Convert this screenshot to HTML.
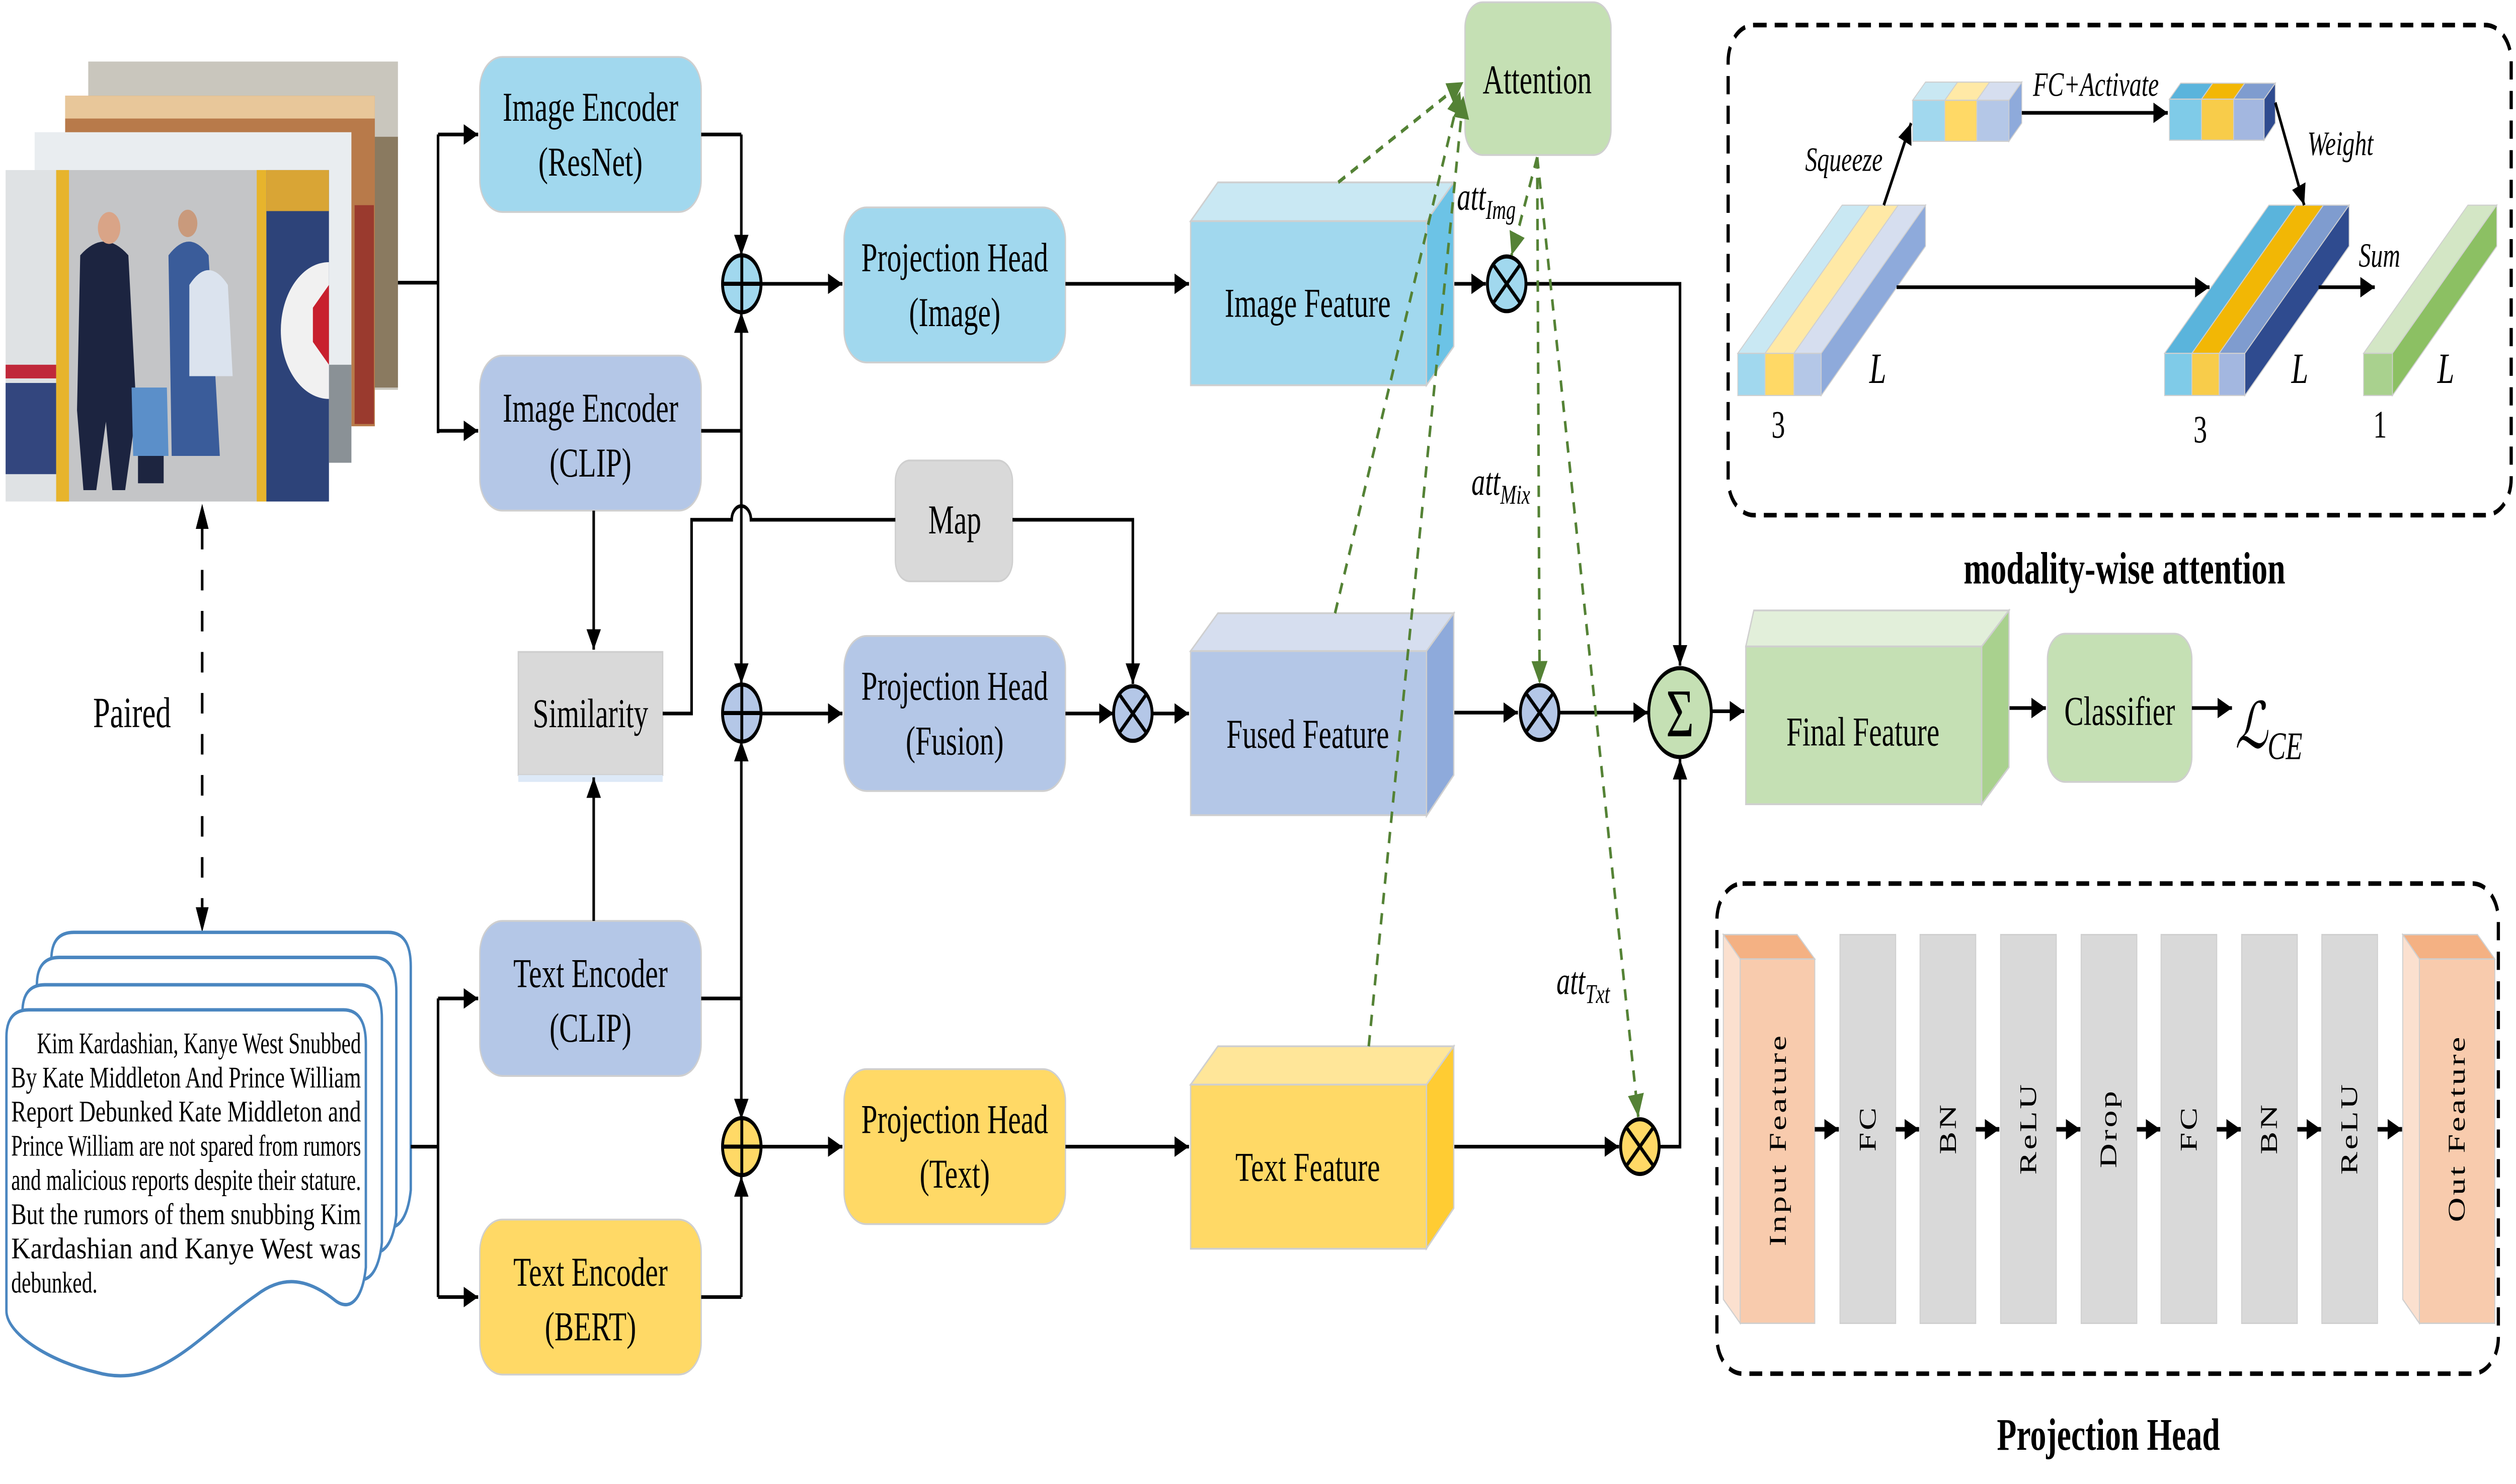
<!DOCTYPE html>
<html><head><meta charset="utf-8"><style>
html,body{margin:0;padding:0;background:#fff;width:100%;height:100%;overflow:hidden;}
svg{position:fixed;left:0;top:0;display:block;width:100vw;height:100vh;}
text{font-family:"Liberation Serif",serif;}
</style></head><body>
<svg viewBox="0 0 1568 651" preserveAspectRatio="none" xmlns="http://www.w3.org/2000/svg">
<defs>
<marker id="a" viewBox="0 0 10 10" refX="10" refY="5" markerWidth="9" markerHeight="9" markerUnits="userSpaceOnUse" orient="auto"><path d="M0,0L10,5L0,10z" fill="#000"/></marker>
<marker id="g" viewBox="0 0 10 10" refX="10" refY="5" markerWidth="10" markerHeight="10" markerUnits="userSpaceOnUse" orient="auto"><path d="M0,0L10,5L0,10z" fill="#548235"/></marker>
</defs>
<rect width="1568" height="651" fill="#fff"/>

<!-- photos -->
<rect x="55" y="27" width="193" height="144" fill="#c9c6bd"/>
<rect x="230" y="60" width="18" height="110" fill="#8a7a60"/>
<rect x="40.6" y="42" width="193" height="145" fill="#b87a4a"/>
<rect x="40.6" y="42" width="193" height="10" fill="#e8c79a"/>
<rect x="221" y="90" width="12" height="96" fill="#9a3a2e"/>
<rect x="21.6" y="58" width="197.4" height="145" fill="#e9edf0"/>
<rect x="205" y="160" width="14" height="43" fill="#8a9196"/>
<rect x="3.5" y="74.6" width="201.5" height="145.4" fill="#dfe2e4"/>
<rect x="3.5" y="160" width="34" height="6" fill="#c0283a"/>
<rect x="3.5" y="168" width="34" height="40" fill="#33467e"/>
<rect x="35" y="74.6" width="130" height="145.4" fill="#c4c5c7"/>
<rect x="35" y="74.6" width="8" height="145.4" fill="#e7b42c"/>
<rect x="160" y="74.6" width="6" height="145.4" fill="#e7b42c"/>
<rect x="166" y="74.6" width="39" height="145.4" fill="#2d4379"/>
<path d="M205,115 A30,30 0 0 0 205,175 z" fill="#f1f1f1"/>
<path d="M195,135 L205,125 L205,160 L195,150z" fill="#c8202e"/>
<rect x="166" y="74.6" width="39" height="18" fill="#d9a535"/>
<path d="M50,112 Q65,100 80,112 L85,180 L78,215 L70,215 L66,185 L60,215 L52,215 L48,180z" fill="#1c2440"/>
<circle cx="68" cy="100" r="7" fill="#d9a487"/>
<path d="M105,112 Q118,100 130,112 L137,200 L107,200z" fill="#3a5c9a"/>
<circle cx="117" cy="98" r="6" fill="#c99a7c"/>
<path d="M118,125 Q130,112 142,125 L145,165 L118,165z" fill="#dbe3ee"/>
<path d="M82,170 L104,170 L105,200 L83,200z" fill="#5b8fc9"/>
<rect x="86" y="200" width="16" height="12" fill="#1d2540"/>

<!-- bracket from photos -->
<path d="M248,124 H273 M273,59 V190" stroke="#000" stroke-width="1.6" fill="none"/>
<path d="M273,59 H298" stroke="#000" stroke-width="1.6" marker-end="url(#a)"/>
<path d="M273,189 H298" stroke="#000" stroke-width="1.6" marker-end="url(#a)"/>

<!-- paired -->
<path d="M126,232 V398" stroke="#000" stroke-width="1.6" stroke-dasharray="9,9" fill="none"/>
<path d="M122,232 L126,221 L130,232z M122,398 L126,409 L130,398z" fill="#000"/>
<text x="58" y="319" font-size="19">Paired</text>

<!-- docs -->
<g fill="#fff" stroke="#4a86c0" stroke-width="1.5">
<path transform="translate(28,-34)" d="M4,455 Q4,443 18,443 L214,443 Q228,443 228,458 L228,556 C226,570 218,576 208,570 C190,560 175,560 160,568 C125,585 100,610 60,602 C30,597 4,585 4,575 Z"/>
<path transform="translate(19,-23)" d="M4,455 Q4,443 18,443 L214,443 Q228,443 228,458 L228,556 C226,570 218,576 208,570 C190,560 175,560 160,568 C125,585 100,610 60,602 C30,597 4,585 4,575 Z"/>
<path transform="translate(10,-11)" d="M4,455 Q4,443 18,443 L214,443 Q228,443 228,458 L228,556 C226,570 218,576 208,570 C190,560 175,560 160,568 C125,585 100,610 60,602 C30,597 4,585 4,575 Z"/>
<path d="M4,455 Q4,443 18,443 L214,443 Q228,443 228,458 L228,556 C226,570 218,576 208,570 C190,560 175,560 160,568 C125,585 100,610 60,602 C30,597 4,585 4,575 Z"/>
</g>
<g font-size="13" fill="#000">
<text x="23" y="462" textLength="202" lengthAdjust="spacingAndGlyphs">Kim Kardashian, Kanye West Snubbed</text>
<text x="7" y="477" textLength="218" lengthAdjust="spacingAndGlyphs">By Kate Middleton And Prince William</text>
<text x="7" y="492" textLength="218" lengthAdjust="spacingAndGlyphs">Report Debunked Kate Middleton and</text>
<text x="7" y="507" textLength="218" lengthAdjust="spacingAndGlyphs">Prince William are not spared from rumors</text>
<text x="7" y="522" textLength="218" lengthAdjust="spacingAndGlyphs">and malicious reports despite their stature.</text>
<text x="7" y="537" textLength="218" lengthAdjust="spacingAndGlyphs">But the rumors of them snubbing Kim</text>
<text x="7" y="552" textLength="218" lengthAdjust="spacingAndGlyphs">Kardashian and Kanye West was</text>
<text x="7" y="567">debunked.</text>
</g>
<path d="M256,503 H273 M273,438 V569" stroke="#000" stroke-width="1.6" fill="none"/>
<path d="M273,438 H298" stroke="#000" stroke-width="1.6" marker-end="url(#a)"/>
<path d="M273,569 H298" stroke="#000" stroke-width="1.6" marker-end="url(#a)"/>

<!-- encoders -->
<g stroke="#cfcfcf" stroke-width="0.8">
<rect x="299" y="25" width="138" height="68" rx="14" fill="#a1d8ee"/>
<rect x="299" y="156" width="138" height="68" rx="14" fill="#b4c7e7"/>
<rect x="299" y="404" width="138" height="68" rx="14" fill="#b4c7e7"/>
<rect x="299" y="535" width="138" height="68" rx="14" fill="#ffd966"/>
<rect x="323" y="286" width="90" height="54" fill="#d9d9d9"/>
<rect x="558" y="202" width="73" height="53" rx="9" fill="#d9d9d9"/>
<rect x="526" y="91" width="138" height="68" rx="14" fill="#a1d8ee"/>
<rect x="526" y="279" width="138" height="68" rx="14" fill="#b4c7e7"/>
<rect x="526" y="469" width="138" height="68" rx="14" fill="#ffd966"/>
<rect x="913" y="1" width="91" height="67" rx="11" fill="#c5e0b4"/>
<rect x="1276" y="278" width="90" height="65" rx="11" fill="#c5e0b4"/>
</g>
<rect x="323" y="340" width="90" height="3" fill="#dde9f7"/>
<g font-size="18" text-anchor="middle" fill="#000">
<text x="368" y="53">Image Encoder</text><text x="368" y="77">(ResNet)</text>
<text x="368" y="185">Image Encoder</text><text x="368" y="209">(CLIP)</text>
<text x="368" y="433">Text Encoder</text><text x="368" y="457">(CLIP)</text>
<text x="368" y="564">Text Encoder</text><text x="368" y="588">(BERT)</text>
<text x="368" y="319">Similarity</text>
<text x="595" y="234">Map</text>
<text x="595" y="119">Projection Head</text><text x="595" y="143">(Image)</text>
<text x="595" y="307">Projection Head</text><text x="595" y="331">(Fusion)</text>
<text x="595" y="497">Projection Head</text><text x="595" y="521">(Text)</text>
<text x="958" y="41">Attention</text>
<text x="1321" y="318">Classifier</text>
</g>

<!-- encoder connections -->
<g stroke="#000" stroke-width="1.6" fill="none">
<path d="M437,59 H462" /><path d="M462,59 V112" marker-end="url(#a)"/>
<path d="M437,189 H462"/>
<path d="M462,189 V137" marker-end="url(#a)"/>
<path d="M462,189 V300" marker-end="url(#a)"/>
<path d="M437,438 H462"/>
<path d="M462,438 V325" marker-end="url(#a)"/>
<path d="M462,438 V491" marker-end="url(#a)"/>
<path d="M437,569 H462"/>
<path d="M462,569 V516" marker-end="url(#a)"/>
<path d="M370,224 V285" marker-end="url(#a)"/>
<path d="M370,404 V341" marker-end="url(#a)"/>
<path d="M413,313 H431 V228 H456 A6,6 0 0 1 468,228 H558"/>
<path d="M631,228 H706 V300" marker-end="url(#a)"/>
<path d="M474,124.5 H525" marker-end="url(#a)"/>
<path d="M474,313 H525" marker-end="url(#a)"/>
<path d="M474,503 H525" marker-end="url(#a)"/>
<path d="M664,124.5 H741" marker-end="url(#a)"/>
<path d="M664,313 H694" marker-end="url(#a)"/>
<path d="M718,313 H741" marker-end="url(#a)"/>
<path d="M664,503 H741" marker-end="url(#a)"/>
<path d="M906,124.5 H926" marker-end="url(#a)"/>
<path d="M951,124.5 H1047 V292" marker-end="url(#a)"/>
<path d="M906,312.6 H946" marker-end="url(#a)"/>
<path d="M972,312.6 H1027" marker-end="url(#a)"/>
<path d="M906,503 H1009" marker-end="url(#a)"/>
<path d="M1034,503 H1047 V333" marker-end="url(#a)"/>
<path d="M1067,312 H1087" marker-end="url(#a)"/>
<path d="M1252,310.6 H1275" marker-end="url(#a)"/>
<path d="M1366,310.6 H1391" marker-end="url(#a)"/>
</g>

<!-- circles -->
<g stroke="#000" stroke-width="1.8">
<ellipse cx="462.3" cy="124.5" rx="12" ry="12.5" fill="#a1d8ee"/>
<ellipse cx="462.3" cy="312.8" rx="12" ry="12.5" fill="#b4c7e7"/>
<ellipse cx="462.3" cy="503" rx="12" ry="12.5" fill="#ffd966"/>
<path d="M450.3,124.5H474.3M462.3,112V137M450.3,312.8H474.3M462.3,300.3V325.3M450.3,503H474.3M462.3,490.5V515.5" fill="none"/>
<circle cx="706" cy="313" r="12" fill="#b4c7e7"/>
<circle cx="939" cy="124.5" r="12" fill="#a1d8ee"/>
<circle cx="959.5" cy="312.6" r="12" fill="#b4c7e7"/>
<circle cx="1022" cy="503" r="12" fill="#ffd966"/>
<path d="M697.5,304.5l17,17m0,-17l-17,17 M930.5,116l17,17m0,-17l-17,17 M951,304.1l17,17m0,-17l-17,17 M1013.5,494.5l17,17m0,-17l-17,17" fill="none"/>
<circle cx="1047" cy="312.6" r="19.5" fill="#c5e0b4"/>
</g>
<text x="1047" y="323" font-size="30" text-anchor="middle">Σ</text>

<!-- 3D features -->
<g stroke="#cfcfcf" stroke-width="0.8">
<path d="M742,97 L759,80 H906 L889,97z" fill="#c9e8f3"/>
<path d="M889,97 L906,80 V152 L889,169z" fill="#6cc3e6"/>
<rect x="742" y="97" width="147" height="72" fill="#a1d8ee"/>
<path d="M742,285.6 L759,269 H906 L889,285.6z" fill="#d6deef"/>
<path d="M889,285.6 L906,269 V340 L889,358z" fill="#8eaadb"/>
<rect x="742" y="285.6" width="147" height="72" fill="#b4c7e7"/>
<path d="M742,475.8 L759,459 H906 L889,475.8z" fill="#ffe699"/>
<path d="M889,475.8 L906,459 V530 L889,547.7z" fill="#ffcc33"/>
<rect x="742" y="475.8" width="147" height="72" fill="#ffd966"/>
<path d="M1088,283.6 L1093,267.8 H1252 L1235,283.6z" fill="#e2efda"/>
<path d="M1235,283.6 L1252,267.8 V336.6 L1235,352.8z" fill="#a9d18e"/>
<rect x="1088" y="283.6" width="147" height="69.2" fill="#c5e0b4"/>
</g>
<g font-size="18" text-anchor="middle">
<text x="815" y="139">Image Feature</text>
<text x="815" y="328">Fused Feature</text>
<text x="815" y="518">Text Feature</text>
<text x="1161" y="327">Final Feature</text>
</g>
<text x="1393" y="328" font-size="28" font-style="italic">ℒ<tspan font-size="17" dy="5">CE</tspan></text>

<!-- green dashed -->
<g stroke="#548235" stroke-width="1.6" stroke-dasharray="5,4" fill="none">
<path d="M834,80 L912,36" marker-end="url(#g)"/>
<path d="M832,269 L910,40" marker-end="url(#g)"/>
<path d="M853,459 L912,42" marker-end="url(#g)"/>
<path d="M958,69 L942,112" marker-end="url(#g)"/>
<path d="M958,69 L959.5,300" marker-end="url(#g)"/>
<path d="M958,69 L1021,490" marker-end="url(#g)"/>
</g>
<g font-size="17" font-style="italic">
<text x="908" y="92">att<tspan font-size="12" dy="4">Img</tspan></text>
<text x="917" y="217">att<tspan font-size="12" dy="4">Mix</tspan></text>
<text x="970" y="436">att<tspan font-size="12" dy="4">Txt</tspan></text>
</g>

<!-- modality-wise attention -->
<rect x="1077" y="11" width="488" height="215" rx="16" fill="none" stroke="#000" stroke-width="2" stroke-dasharray="8,5"/>
<g stroke="#cfcfcf" stroke-width="0.5">
<path d="M1083,155 L1148,90 H1165 L1100,155z" fill="#c9e8f3"/>
<path d="M1100,155 L1165,90 H1183 L1118,155z" fill="#ffe9a6"/>
<path d="M1118,155 L1183,90 H1200 L1135,155z" fill="#d6deef"/>
<path d="M1135,155 L1200,90 V108 L1135,173.5z" fill="#8eaadb"/>
<rect x="1083" y="155" width="17" height="18.5" fill="#a1d8ee"/>
<rect x="1100" y="155" width="18" height="18.5" fill="#ffd966"/>
<rect x="1118" y="155" width="17" height="18.5" fill="#b4c7e7"/>

<path d="M1192,44 L1200,36 H1220 L1212,44z" fill="#c9e8f3"/>
<path d="M1212,44 L1220,36 H1240 L1232,44z" fill="#ffe9a6"/>
<path d="M1232,44 L1240,36 H1260 L1252,44z" fill="#d6deef"/>
<path d="M1252,44 L1260,36 V54 L1252,62z" fill="#8eaadb"/>
<rect x="1192" y="44" width="20" height="18" fill="#a1d8ee"/>
<rect x="1212" y="44" width="20" height="18" fill="#ffd966"/>
<rect x="1232" y="44" width="20" height="18" fill="#b4c7e7"/>

<path d="M1352,43.5 L1359,36.5 H1379 L1372,43.5z" fill="#5ab4dc"/>
<path d="M1372,43.5 L1379,36.5 H1399 L1392,43.5z" fill="#f2b705"/>
<path d="M1392,43.5 L1399,36.5 H1418 L1411,43.5z" fill="#7f9ccf"/>
<path d="M1411,43.5 L1418,36.5 V54 L1411,61.5z" fill="#2f4b8f"/>
<rect x="1352" y="43.5" width="20" height="18" fill="#7fcbe8"/>
<rect x="1372" y="43.5" width="20" height="18" fill="#f8cc4a"/>
<rect x="1392" y="43.5" width="19" height="18" fill="#a3b7e0"/>

<path d="M1349,155 L1414,90 H1431 L1366,155z" fill="#5ab4dc"/>
<path d="M1366,155 L1431,90 H1448 L1383,155z" fill="#f2b705"/>
<path d="M1383,155 L1448,90 H1464 L1399,155z" fill="#7f9ccf"/>
<path d="M1399,155 L1464,90 V108 L1399,173.5z" fill="#2f4b8f"/>
<rect x="1349" y="155" width="17" height="18.5" fill="#7fcbe8"/>
<rect x="1366" y="155" width="17" height="18.5" fill="#f8cc4a"/>
<rect x="1383" y="155" width="16" height="18.5" fill="#a3b7e0"/>

<path d="M1473,155 L1538,90 H1556 L1491,155z" fill="#d3e6c5"/>
<path d="M1491,155 L1556,90 V108 L1491,173.5z" fill="#8cc063"/>
<rect x="1473" y="155" width="18" height="18.5" fill="#a9d18e"/>
</g>
<g stroke="#000" stroke-width="1.6" fill="none">
<path d="M1174,90 L1191,54" marker-end="url(#a)"/>
<path d="M1260,49.5 H1351" marker-end="url(#a)"/>
<path d="M1418,45 L1436,90" marker-end="url(#a)"/>
<path d="M1182,126 H1377" marker-end="url(#a)"/>
<path d="M1445,126 H1480" marker-end="url(#a)"/>
</g>
<g font-size="15" font-style="italic">
<text x="1125" y="75">Squeeze</text>
<text x="1267" y="42">FC+Activate</text>
<text x="1438" y="68">Weight</text>
<text x="1470" y="117">Sum</text>
<text x="1165" y="168" font-size="19">L</text>
<text x="1428" y="168" font-size="19">L</text>
<text x="1519" y="168" font-size="19">L</text>
</g>
<g font-size="17">
<text x="1104" y="192">3</text>
<text x="1367" y="194">3</text>
<text x="1479" y="192">1</text>
</g>
<text x="1324" y="256" font-size="20" font-weight="bold" text-anchor="middle">modality-wise attention</text>

<!-- projection head panel -->
<rect x="1070" y="387.6" width="487" height="215" rx="16" fill="none" stroke="#000" stroke-width="2" stroke-dasharray="8,5"/>
<g stroke="#cfcfcf" stroke-width="0.6">
<path d="M1074,410 H1120 L1131,420.7 H1084.5z" fill="#f4b183"/>
<path d="M1074,410 L1084.5,420.7 V580.5 L1074,570z" fill="#fbe0cf"/>
<rect x="1084.5" y="420.7" width="46.5" height="159.8" fill="#f8cbad"/>
<path d="M1497.4,410 H1544 L1554.8,420.7 H1507.8z" fill="#f4b183"/>
<path d="M1497.4,410 L1507.8,420.7 V580.5 L1497.4,570z" fill="#fbe0cf"/>
<rect x="1507.8" y="420.7" width="47" height="159.8" fill="#f8cbad"/>
<rect x="1146.7" y="410" width="34.7" height="170.5" fill="#d9d9d9"/>
<rect x="1196.6" y="410" width="34.7" height="170.5" fill="#d9d9d9"/>
<rect x="1246.8" y="410" width="34.7" height="170.5" fill="#d9d9d9"/>
<rect x="1297" y="410" width="34.7" height="170.5" fill="#d9d9d9"/>
<rect x="1346.8" y="410" width="34.7" height="170.5" fill="#d9d9d9"/>
<rect x="1397" y="410" width="34.7" height="170.5" fill="#d9d9d9"/>
<rect x="1447" y="410" width="34.7" height="170.5" fill="#d9d9d9"/>
</g>
<g stroke="#000" stroke-width="2" fill="none">
<path d="M1131,495.4 H1146" marker-end="url(#a)"/>
<path d="M1181.4,495.4 H1196" marker-end="url(#a)"/>
<path d="M1231.3,495.4 H1246" marker-end="url(#a)"/>
<path d="M1281.5,495.4 H1296.5" marker-end="url(#a)"/>
<path d="M1331.7,495.4 H1346.3" marker-end="url(#a)"/>
<path d="M1381.5,495.4 H1396.5" marker-end="url(#a)"/>
<path d="M1431.7,495.4 H1446.5" marker-end="url(#a)"/>
<path d="M1481.7,495.4 H1497" marker-end="url(#a)"/>
</g>
<g font-size="15" text-anchor="middle" letter-spacing="1">
<text transform="translate(1113,500) rotate(-90)">Input Feature</text>
<text transform="translate(1169,495) rotate(-90)">FC</text>
<text transform="translate(1219,495) rotate(-90)">BN</text>
<text transform="translate(1269,495) rotate(-90)">ReLU</text>
<text transform="translate(1319,495) rotate(-90)">Drop</text>
<text transform="translate(1369,495) rotate(-90)">FC</text>
<text transform="translate(1419,495) rotate(-90)">BN</text>
<text transform="translate(1469,495) rotate(-90)">ReLU</text>
<text transform="translate(1536,495) rotate(-90)">Out Feature</text>
</g>
<text x="1314" y="636" font-size="20" font-weight="bold" text-anchor="middle">Projection Head</text>
</svg>
</body></html>
